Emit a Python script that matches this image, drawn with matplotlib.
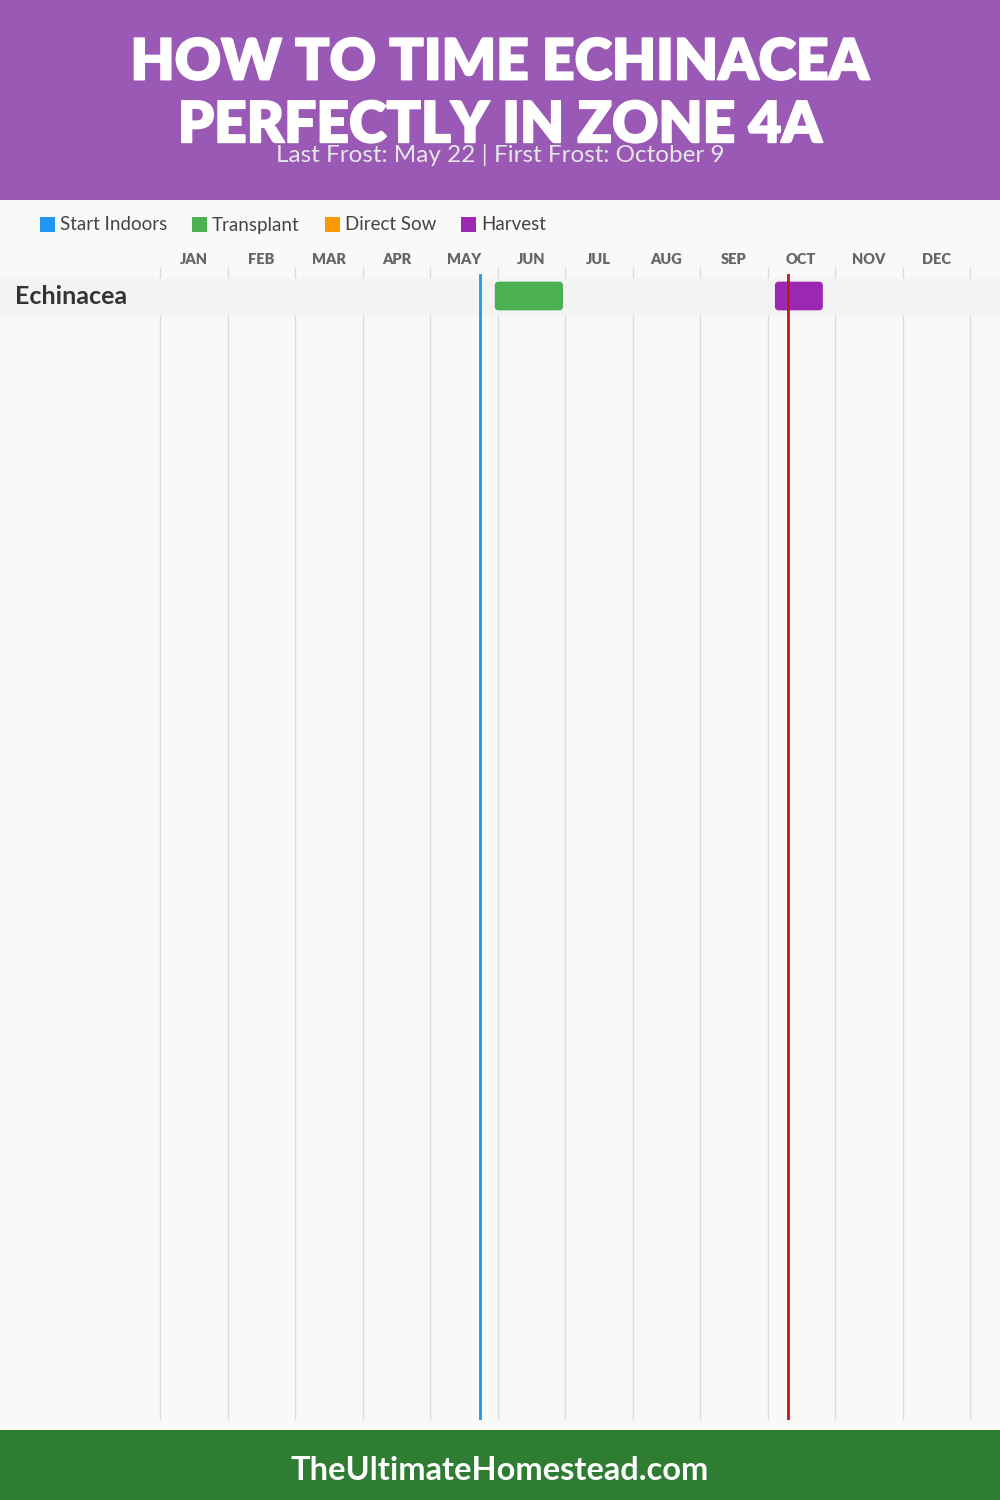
import matplotlib
matplotlib.use("Agg")
import matplotlib.pyplot as plt
from matplotlib.patches import Rectangle, FancyBboxPatch
import matplotlib.transforms as mtransforms
import matplotlib.patheffects as pe

# chart data (months as fractional positions, Jan 1 = 0)
months = ["JAN", "FEB", "MAR", "APR", "MAY", "JUN", "JUL", "AUG", "SEP", "OCT", "NOV", "DEC"]
crops = ["Echinacea"]
transplant = [(4.96, 5.97)]
harvest = [(9.11, 9.82)]
last_frost = 4.74
first_frost = 9.30
legend_names = ["Start Indoors", "Transplant", "Direct Sow", "Harvest"]
legend_colors = ["#2196F3", "#4CAF50", "#FF9800", "#9C27B0"]

title = "HOW TO TIME ECHINACEA\nPERFECTLY IN ZONE 4A"
subtitle = "Last Frost: May 22 | First Frost: October 9"
footer = "TheUltimateHomestead.com"

W, H = 1000, 1500
fig = plt.figure(figsize=(W / 100, H / 100), dpi=100)
fig.patch.set_facecolor("#f9f9f7")

# header and footer bands
fig.patches.append(Rectangle((0, 1 - 200 / H), 1, 200 / H, transform=fig.transFigure,
                             facecolor="#9B59B6", edgecolor="none", zorder=0))
fig.patches.append(Rectangle((0, 0), 1, 70 / H, transform=fig.transFigure,
                             facecolor="#2E7D32", edgecolor="none", zorder=0))

fig.text(0.5, 1 - 94 / H, title, ha="center", va="center", color="white",
         fontsize=41, fontweight="heavy", family="Lato", linespacing=1.25,
         path_effects=[pe.withStroke(linewidth=1.2, foreground="white")])
fig.text(0.5, 1 - 155 / H, subtitle, ha="center", va="center", color="#e6e6e6",
         fontsize=17.5, family="Lato")
fig.text(0.5, 1 - 1471 / H, footer, ha="center", va="center", color="white",
         fontsize=23.5, fontweight="bold", family="Lato")

# legend
lx = 40
for name, col in zip(legend_names, legend_colors):
    fig.patches.append(Rectangle((lx / W, 1 - 232 / H), 15 / W, 15 / H, transform=fig.transFigure,
                                 facecolor=col, edgecolor="none"))
    t = fig.text((lx + 20) / W, 1 - 225 / H, name, ha="left", va="center",
                 color="#444444", fontsize=13.5, family="Lato")
    fig.canvas.draw()
    bb = t.get_window_extent()
    lx = bb.x1 + 25

# chart axes
top_px, bot_px = 267, 1420
ax = fig.add_axes([0, 1 - bot_px / H, 1, (bot_px - top_px) / H])
ax.set_facecolor("none")
month_px = 67.5
left_px = 160
ax.set_xlim(-left_px / month_px, (W - left_px) / month_px)
row_px = 35
ax.set_ylim((bot_px - top_px - 29) / row_px, -29 / row_px)
for s in ax.spines.values():
    s.set_visible(False)
ax.set_xticks([])
ax.set_yticks([])

for m in range(len(months) + 1):
    ax.axvline(m, color="#dddddd", lw=1, zorder=1)

trans = mtransforms.blended_transform_factory(ax.transData, fig.transFigure)
for i, m in enumerate(months):
    ax.text(i + 0.5, 1 - 259 / H, m, transform=trans, ha="center", va="center",
            color="#666666", fontsize=10.5, fontweight="heavy", family="Lato")

aspect = (4 / row_px) / (4 / month_px)
for r, crop in enumerate(crops):
    ax.axhspan(r - 0.5, r + 0.5, color="#f3f3f3", zorder=2)
    ax.text(-left_px / month_px + 15 / month_px, r, crop, ha="left", va="center",
            color="#333333", fontsize=18, fontweight="bold", family="Lato", zorder=5)
    for (s, e), col in [(transplant[r], legend_colors[1]), (harvest[r], legend_colors[3])]:
        ax.add_patch(FancyBboxPatch((s, r - 0.41), e - s, 0.82,
                                    boxstyle="round,pad=0,rounding_size=0.06",
                                    mutation_aspect=aspect, facecolor=col,
                                    edgecolor="none", zorder=3))

ax.axvline(last_frost, ymin=0, ymax=1 - 8 / (bot_px - top_px), color="#2196F3", lw=2, zorder=4)
ax.axvline(first_frost, ymin=0, ymax=1 - 8 / (bot_px - top_px), color="#B71C1C", lw=2, zorder=4)

fig.savefig("out.png", dpi=100, facecolor=fig.get_facecolor())
